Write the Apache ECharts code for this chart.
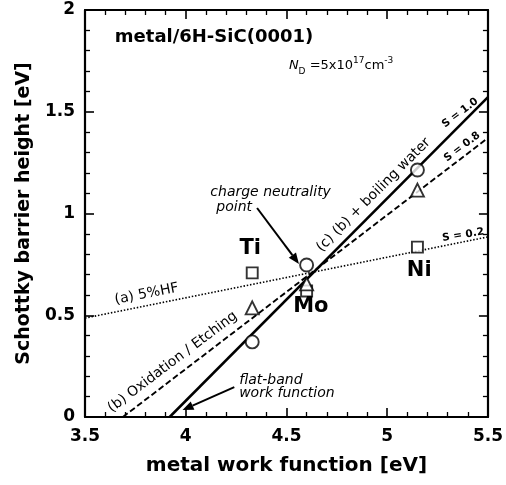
<!DOCTYPE html>
<html>
<head>
<meta charset="utf-8">
<script src="https://cdn.jsdelivr.net/npm/echarts@6/dist/echarts.min.js"></script>
<style>
  html, body { margin: 0; padding: 0; background: #fff; }
  #chart { width: 506px; height: 485px; }
</style>
</head>
<body>
<div id="chart"></div>
<script>
// Metal contacts and their work functions (eV)
const metals = ['Ti', 'Mo', 'Ni'];
const workFunction = [4.33, 4.60, 5.15];

// Schottky barrier heights (eV) for each surface treatment
const hfBarrier = [0.708, 0.619, 0.835];        // (a) 5%HF            - squares
const oxidationBarrier = [0.536, 0.654, 1.115]; // (b) oxidation/etch  - triangles
const boilingBarrier = [0.369, 0.747, 1.214];   // (c) (b)+boiling     - circles

// Fitted lines, end points as [work function, barrier height]
const lineS10 = [[3.92, 0], [5.5, 1.572]];
const lineS08 = [[3.688, 0], [5.5, 1.371]];
const lineS02 = [[3.5, 0.486], [5.5, 0.885]];

// Axis ranges and tick labels
const xTickLabels = ['3.5', '4', '4.5', '5', '5.5'];
const yTickLabels = ['0', '0.5', '1', '1.5', '2'];

const FONT = '"DejaVu Sans", "Liberation Sans", Arial, sans-serif';
const INK = '#000';

const pairs = (ys) => workFunction.map((x, i) => [x, ys[i]]);

const axisCommon = {
  type: 'value',
  splitLine: { show: false },
  axisLine: { show: true, onZero: false, lineStyle: { color: INK, width: 2.2 } },
  axisTick: { show: true, inside: true, length: 9, lineStyle: { color: INK, width: 1.6 } },
  minorTick: { show: true, splitNumber: 5, length: 5, lineStyle: { color: INK, width: 1.3 } },
  minorSplitLine: { show: false }
};

const xMin = Number(xTickLabels[0]), xMax = Number(xTickLabels[xTickLabels.length - 1]);
const yMin = Number(yTickLabels[0]), yMax = Number(yTickLabels[yTickLabels.length - 1]);

const chart = echarts.init(document.getElementById('chart'), null, { renderer: 'canvas' });

chart.setOption({
  animation: false,
  backgroundColor: '#fff',
  grid: { left: 85, right: 16, top: 10, bottom: 68 },
  xAxis: [
    Object.assign({}, axisCommon, {
      min: xMin, max: xMax, interval: 0.5, position: 'bottom',
      axisLabel: {
        color: INK, fontFamily: FONT, fontWeight: 'bold', fontSize: 17, margin: 11,
        formatter: (v) => xTickLabels[Math.round((v - xMin) / 0.5)]
      },
      name: 'metal work function [eV]', nameLocation: 'middle', nameGap: 39,
      nameTextStyle: { color: INK, fontFamily: FONT, fontWeight: 'bold', fontSize: 20 }
    }),
    Object.assign({}, axisCommon, {
      min: xMin, max: xMax, interval: 0.5, position: 'top',
      axisLabel: { show: false }
    })
  ],
  yAxis: [
    Object.assign({}, axisCommon, {
      min: yMin, max: yMax, interval: 0.5, position: 'left',
      axisLabel: {
        color: INK, fontFamily: FONT, fontWeight: 'bold', fontSize: 17, margin: 10,
        formatter: (v) => yTickLabels[Math.round((v - yMin) / 0.5)]
      },
      name: 'Schottky barrier height [eV]', nameLocation: 'middle', nameGap: 48, nameRotate: 90,
      nameTextStyle: { color: INK, fontFamily: FONT, fontWeight: 'bold', fontSize: 19 }
    }),
    Object.assign({}, axisCommon, {
      min: yMin, max: yMax, interval: 0.5, position: 'right',
      axisLabel: { show: false }
    })
  ],
  series: [
    {
      name: 'S = 0.2', type: 'line', data: lineS02, symbol: 'none', z: 2,
      lineStyle: { color: INK, width: 1.6, type: [1.5, 1.8] }
    },
    {
      name: 'S = 0.8', type: 'line', data: lineS08, symbol: 'none', z: 2,
      lineStyle: { color: INK, width: 1.9, type: [6, 3] }
    },
    {
      name: 'S = 1.0', type: 'line', data: lineS10, symbol: 'none', z: 2,
      lineStyle: { color: INK, width: 2.5, type: 'solid' }
    },
    {
      name: '(a) 5%HF', type: 'scatter', data: pairs(hfBarrier), symbol: 'rect', symbolSize: 11, z: 5,
      itemStyle: { color: '#fff', borderColor: INK, borderWidth: 1.9 }
    },
    {
      name: '(b) Oxidation / Etching', type: 'scatter', data: pairs(oxidationBarrier),
      symbol: 'triangle', symbolSize: 13, z: 6,
      itemStyle: { color: '#fff', borderColor: INK, borderWidth: 1.9 }
    },
    {
      name: '(c) (b) + boiling water', type: 'scatter', data: pairs(boilingBarrier),
      symbol: 'circle', symbolSize: 13, z: 6,
      itemStyle: { color: '#fff', borderColor: INK, borderWidth: 1.9 }
    }
  ]
});

// ---- annotations, anchored in data coordinates ----
const at = (x, y) => chart.convertToPixel({ gridIndex: 0 }, [x, y]);
const deg = (d) => d * Math.PI / 180;

function label(x, y, text, font, opt) {
  opt = opt || {};
  const p = at(x, y);
  return {
    type: 'text', x: p[0], y: p[1], rotation: deg(opt.rot || 0), z: 20,
    style: {
      text: text, font: font, fill: INK,
      align: opt.align || 'center', verticalAlign: 'middle',
      textAlign: opt.align || 'center', textVerticalAlign: 'middle'
    }
  };
}

function arrow(x0, y0, x1, y1) {
  const a = at(x0, y0), b = at(x1, y1);
  const ang = Math.atan2(b[1] - a[1], b[0] - a[0]);
  const len = 11, half = 4.5;
  const base = [b[0] - len * Math.cos(ang), b[1] - len * Math.sin(ang)];
  const nx = -Math.sin(ang), ny = Math.cos(ang);
  return [
    { type: 'line', z: 20, shape: { x1: a[0], y1: a[1], x2: base[0], y2: base[1] },
      style: { stroke: INK, lineWidth: 2 } },
    { type: 'polygon', z: 20,
      shape: { points: [b, [base[0] + nx * half, base[1] + ny * half], [base[0] - nx * half, base[1] - ny * half]] },
      style: { fill: INK } }
  ];
}

const bold = (s) => 'bold ' + s + 'px ' + FONT;
const plain = (s) => s + 'px ' + FONT;
const oblique = (s) => 'italic ' + s + 'px ' + FONT;

const ndPos = at(4.512, 1.725);

const graphics = [
  label(3.648, 1.867, 'metal/6H-SiC(0001)', bold(18), { align: 'left' }),
  {
    type: 'text', x: ndPos[0], y: ndPos[1], z: 20,
    style: {
      text: '{i|N}{sub|D}{n| =5x10}{sup|17}{n|cm}{sup|-3}',
      align: 'left', verticalAlign: 'middle', textAlign: 'left', textVerticalAlign: 'middle',
      fill: INK,
      rich: {
        i: { fontFamily: FONT, fontStyle: 'italic', fontSize: 13, lineHeight: 20, verticalAlign: 'middle', fill: INK },
        n: { fontFamily: FONT, fontSize: 13, lineHeight: 20, verticalAlign: 'middle', fill: INK },
        sub: { fontFamily: FONT, fontSize: 9, lineHeight: 9, verticalAlign: 'bottom', fill: INK },
        sup: { fontFamily: FONT, fontSize: 9, lineHeight: 9, verticalAlign: 'top', fill: INK }
      }
    }
  },
  label(4.122, 1.106, 'charge neutrality', oblique(14), { align: 'left' }),
  label(4.152, 1.032, 'point', oblique(14), { align: 'left' }),
  label(4.320, 0.830, metals[0], bold(21)),
  label(4.621, 0.541, metals[1], bold(21)),
  label(5.159, 0.722, metals[2], bold(21)),
  label(3.806, 0.604, '(a) 5%HF', plain(14), { rot: 11 }),
  label(3.935, 0.270, '(b) Oxidation / Etching', plain(14), { rot: 37 }),
  label(4.932, 1.091, '(c) (b) + boiling water', plain(14), { rot: 45 }),
  label(5.362, 1.494, 'S = 1.0', bold(10.5), { rot: 37 }),
  label(5.372, 1.327, 'S = 0.8', bold(10.5), { rot: 37 }),
  label(5.377, 0.894, 'S = 0.2', bold(10.5), { rot: 9 }),
  label(4.265, 0.182, 'flat-band', oblique(14), { align: 'left' }),
  label(4.265, 0.118, 'work function', oblique(14), { align: 'left' })
].concat(
  arrow(4.354, 1.027, 4.562, 0.752),
  arrow(4.241, 0.147, 3.984, 0.034)
);

chart.setOption({ graphic: graphics });
</script>
</body>
</html>
